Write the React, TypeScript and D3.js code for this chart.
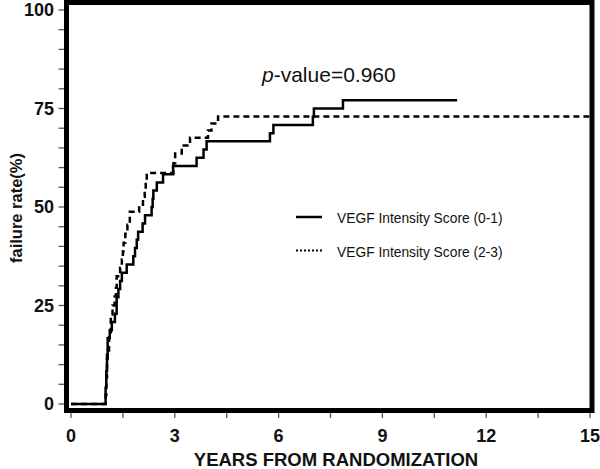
import React from "react";
import * as d3 from "d3";

// Kaplan-Meier style cumulative failure curves (years, %)
const solidTimes = [0, 1.0, 1.02, 1.04, 1.06, 1.12, 1.18, 1.27, 1.32, 1.37, 1.42, 1.47, 1.61, 1.8, 1.85, 1.9, 1.94, 2.07, 2.14, 2.33, 2.36, 2.38, 2.48, 2.66, 2.95, 3.63, 3.83, 3.92, 5.75, 5.85, 6.99, 7.02, 7.86, 11.16];
const solidValues = [0, 4.2, 8.3, 12.5, 16.7, 18.75, 20.8, 22.9, 27.1, 29.2, 31.25, 33.3, 35.4, 37.5, 39.6, 41.7, 43.75, 45.8, 47.9, 50.0, 52.1, 54.2, 56.25, 58.3, 60.4, 62.5, 64.6, 66.7, 68.75, 70.8, 72.9, 75.0, 77.1, 77.1];

const dashedTimes = [0, 1.0, 1.02, 1.04, 1.06, 1.1, 1.15, 1.2, 1.26, 1.3, 1.32, 1.42, 1.47, 1.5, 1.52, 1.57, 1.63, 1.7, 1.97, 2.08, 2.13, 2.16, 2.19, 2.96, 3.01, 3.2, 3.44, 3.96, 4.06, 4.25, 15];
const dashedValues = [0, 2.3, 6.8, 11.4, 13.6, 18.2, 22.7, 25.0, 27.3, 29.5, 32.4, 34.6, 36.7, 38.8, 40.9, 43.2, 45.5, 48.8, 50.6, 52.6, 54.6, 56.6, 58.6, 61.1, 63.6, 65.6, 67.6, 69.4, 71.2, 73.0, 73.0];

const xTickValues = [0, 1.5, 3, 4.5, 6, 7.5, 9, 10.5, 12, 13.5, 15];
const xTickLabels = ["0", "3", "6", "9", "12", "15"];
const yTickValues = d3.range(0, 101, 5);
const yTickLabels = ["0", "25", "50", "75", "100"];

const legendLabels = ["VEGF Intensity Score (0-1)", "VEGF Intensity Score (2-3)"];
const xTitle = "YEARS FROM RANDOMIZATION";
const yTitle = "failure rate(%)";

export default function App() {
  const x = d3.scaleLinear().domain([0, 15]).range([71, 590]);
  const y = d3.scaleLinear().domain([0, 100]).range([404, 10]);

  const line = d3
    .line<[number, number]>()
    .x((d) => x(d[0]))
    .y((d) => y(d[1]))
    .curve(d3.curveStepAfter);

  const solidPts: [number, number][] = solidTimes.map((t, i) => [t, solidValues[i]]);
  const dashedPts: [number, number][] = dashedTimes.map((t, i) => [t, dashedValues[i]]);

  const font = "Arial, 'Liberation Sans', Helvetica, sans-serif";

  return (
    <svg
      width={600}
      height={469}
      style={{ position: "absolute", left: 0, top: 0, background: "#fff" }}
      fontFamily={font}
    >
      {/* y ticks */}
      {yTickValues.map((v) => (
        <line key={"yt" + v} x1={58.5} x2={64} y1={y(v)} y2={y(v)} stroke="#555" strokeWidth={1.3} />
      ))}
      {yTickLabels.map((l) => (
        <text
          key={"yl" + l}
          x={54}
          y={y(+l)}
          textAnchor="end"
          dominantBaseline="central"
          fontSize={18}
          fontWeight="bold"
          fill="#111"
        >
          {l}
        </text>
      ))}
      {/* x ticks */}
      {xTickValues.map((v) => (
        <line key={"xt" + v} x1={x(v)} x2={x(v)} y1={412} y2={418} stroke="#555" strokeWidth={1.3} />
      ))}
      {xTickLabels.map((l) => (
        <text
          key={"xl" + l}
          x={x(+l)}
          y={442}
          textAnchor="middle"
          fontSize={18}
          fontWeight="bold"
          fill="#111"
        >
          {l}
        </text>
      ))}
      <text x={336} y={466} textAnchor="middle" fontSize={18.5} fontWeight="bold" fill="#111">
        {xTitle}
      </text>
      <text
        transform={`translate(22,208) rotate(-90)`}
        textAnchor="middle"
        fontSize={16.5}
        fontWeight="bold"
        fill="#111"
      >
        {yTitle}
      </text>

      {/* curves */}
      <path d={line(dashedPts) || ""} fill="none" stroke="#000" strokeWidth={2.5} strokeDasharray="6,4" />
      <path d={line(solidPts) || ""} fill="none" stroke="#000" strokeWidth={2.5} />

      {/* p-value */}
      <text x={262} y={82} fontSize={21} fill="#111">
        <tspan fontStyle="italic">p</tspan>
        <tspan>-value=0.960</tspan>
      </text>

      {/* legend */}
      <line x1={296} x2={322} y1={217} y2={217} stroke="#000" strokeWidth={2.5} />
      <line x1={296} x2={322} y1={250.5} y2={250.5} stroke="#000" strokeWidth={2} strokeDasharray="2,2" />
      <text x={337} y={218} dominantBaseline="central" fontSize={13.8} fill="#111">
        {legendLabels[0]}
      </text>
      <text x={337} y={252} dominantBaseline="central" fontSize={13.8} fill="#111">
        {legendLabels[1]}
      </text>

      {/* frame */}
      <rect x={66.5} y={2.5} width={525.5} height={408} fill="none" stroke="#000" strokeWidth={5} />
    </svg>
  );
}
